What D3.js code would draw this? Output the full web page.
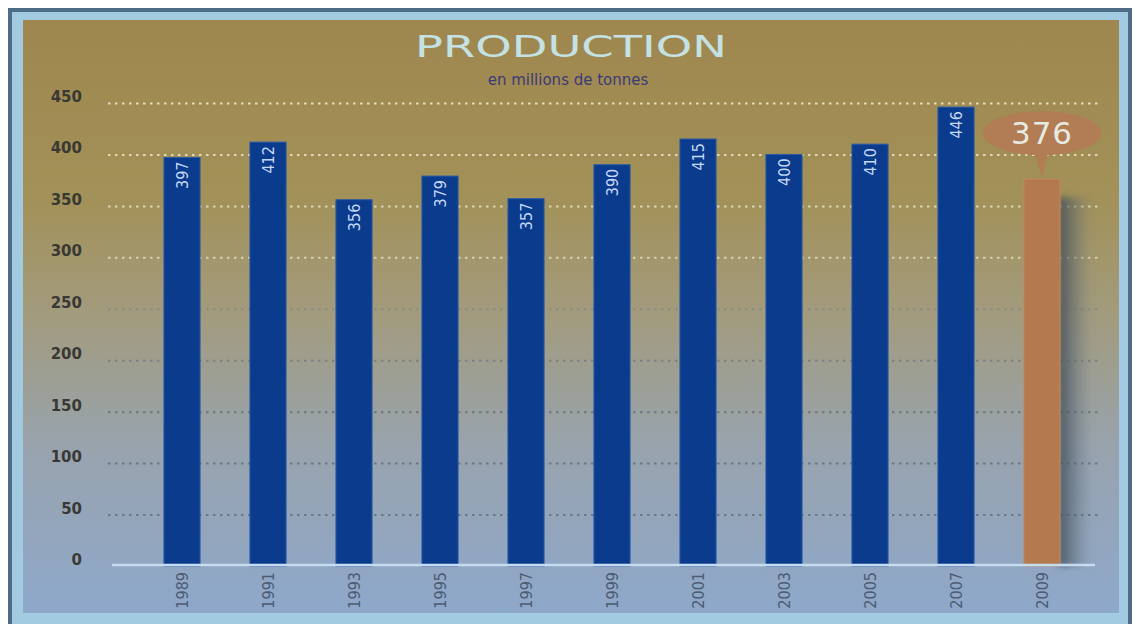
<!DOCTYPE html>
<html>
<head>
<meta charset="utf-8">
<script src="https://cdn.jsdelivr.net/npm/d3@7"></script>
<style>
  html, body { margin: 0; padding: 0; background: #ffffff; }
  svg { display: block; }
</style>
</head>
<body>
<svg id="chart" width="1134" height="624"></svg>
<script>
// Production by year (millions of tonnes); the last year is highlighted
const years = ["1989", "1991", "1993", "1995", "1997", "1999", "2001", "2003", "2005", "2007", "2009"];
const production = [397, 412, 356, 379, 357, 390, 415, 400, 410, 446, 376];
const yTicks = [0, 50, 100, 150, 200, 250, 300, 350, 400, 450];
const titleText = "PRODUCTION";
const subtitleText = "en millions de tonnes";
const highlightYear = "2009";

const svg = d3.select("#chart");
const defs = svg.append("defs");

// panel background: tan at the top fading to steel blue at the bottom
const bg = defs.append("linearGradient").attr("id", "panelGrad")
  .attr("x1", 0).attr("y1", 0).attr("x2", 0).attr("y2", 1);
[[0, "#9f874f"], [0.3, "#a29158"], [0.5, "#a29b7e"], [0.72, "#98a3ad"], [1, "#8ea8cb"]]
  .forEach(([o, c]) => bg.append("stop").attr("offset", o).attr("stop-color", c));

// shadow cast by the highlighted bar
const shadowGrad = defs.append("linearGradient").attr("id", "shadowGrad")
  .attr("x1", 0).attr("y1", 0).attr("x2", 1).attr("y2", 0);
shadowGrad.append("stop").attr("offset", 0).attr("stop-color", "#3c4652").attr("stop-opacity", 0.85);
shadowGrad.append("stop").attr("offset", 1).attr("stop-color", "#6a7888").attr("stop-opacity", 0);
defs.append("filter").attr("id", "soft").attr("x", "-50%").attr("y", "-20%").attr("width", "200%").attr("height", "140%")
  .append("feGaussianBlur").attr("stdDeviation", 3);

// frame
svg.append("rect").attr("x", 8).attr("y", 8).attr("width", 1124).attr("height", 620)
  .attr("fill", "#4e6c86");
svg.append("rect").attr("x", 12).attr("y", 12).attr("width", 1116).attr("height", 616)
  .attr("fill", "#a2cbe2");
svg.append("rect").attr("x", 23).attr("y", 20).attr("width", 1096).attr("height", 593)
  .attr("fill", "url(#panelGrad)");

// scales
const x = d3.scaleBand().domain(years).range([139, 1085]).paddingInner(0.58).paddingOuter(0.29);
const y = d3.scaleLinear().domain([0, 450]).range([566, 103]);

// grid colour: pale cream on the tan part, slate grey on the blue part
const gridColor = d3.scaleLinear().domain([150, 260, 300, 450])
  .range(["#66737f", "#8a8c84", "#ddd6b8", "#ece6cc"]).clamp(true);

// horizontal dotted grid
const grid = svg.append("g").attr("class", "grid")
  .attr("transform", "translate(108,0)")
  .call(d3.axisLeft(y).tickValues(yTicks.filter(d => d > 0)).tickSize(-992).tickFormat(""));
grid.select(".domain").remove();
grid.selectAll(".tick line")
  .attr("stroke", d => gridColor(d))
  .attr("stroke-width", 2)
  .attr("stroke-dasharray", "2.5,4.5")
  .attr("opacity", 0.9);

// y axis labels
const yAxis = svg.append("g").attr("transform", "translate(82,0)")
  .call(d3.axisLeft(y).tickValues(yTicks).tickSize(0).tickPadding(0));
yAxis.select(".domain").remove();
yAxis.selectAll("text")
  .attr("dy", "-0.1em")
  .attr("fill", "#383834")
  .style("font-family", "'DejaVu Sans', sans-serif")
  .style("font-size", "15px")
  .style("font-weight", "bold");

// shadow behind the highlighted bar
const hv = production[years.indexOf(highlightYear)];
svg.append("rect")
  .attr("x", x(highlightYear) + x.bandwidth() - 2)
  .attr("y", y(hv) + 18)
  .attr("width", 34)
  .attr("height", y(0) - y(hv) - 18)
  .attr("fill", "url(#shadowGrad)")
  .attr("filter", "url(#soft)");

// bars
svg.append("g").selectAll("rect")
  .data(years.map((d, i) => ({ year: d, value: production[i] })))
  .join("rect")
  .attr("x", d => x(d.year))
  .attr("y", d => y(d.value))
  .attr("width", x.bandwidth())
  .attr("height", d => y(0) - y(d.value))
  .attr("fill", d => d.year === highlightYear ? "#b27a4e" : "#0a3b8d")
  .attr("stroke", d => d.year === highlightYear ? "#bf8a5c" : "#2a5aa6")
  .attr("stroke-width", 1);

// value labels inside the bars (vertical)
svg.append("g").selectAll("text")
  .data(years.map((d, i) => ({ year: d, value: production[i] })).filter(d => d.year !== highlightYear))
  .join("text")
  .attr("transform", d => `translate(${x(d.year) + x.bandwidth() / 2},${y(d.value) + 4}) rotate(-90)`)
  .attr("text-anchor", "end")
  .attr("dy", "0.35em")
  .attr("fill", "#c4d8f4")
  .style("font-family", "'DejaVu Sans Condensed', 'DejaVu Sans', sans-serif")
  .style("font-stretch", "condensed")
  .style("font-size", "16px")
  .text(d => d.value);

// baseline
svg.append("line").attr("x1", 112).attr("x2", 1095).attr("y1", y(0) - 1).attr("y2", y(0) - 1)
  .attr("stroke", "#c6dcf0").attr("stroke-width", 2.5);

// x axis labels (vertical)
const xAxis = svg.append("g").attr("transform", `translate(0,${y(0) + 6})`)
  .call(d3.axisBottom(x).tickSize(0).tickPadding(0));
xAxis.select(".domain").remove();
xAxis.selectAll("text")
  .attr("transform", "rotate(-90)")
  .attr("text-anchor", "end")
  .attr("x", 0).attr("y", 0).attr("dy", "0.35em")
  .attr("fill", "#4c5c72")
  .style("font-family", "'DejaVu Sans Condensed', 'DejaVu Sans', sans-serif")
  .style("font-stretch", "condensed")
  .style("font-size", "16px");

// callout bubble above the highlighted bar
const cx = x(highlightYear) + x.bandwidth() / 2;
const cy = y(hv) - 46;
const bubble = svg.append("g");
bubble.append("path")
  .attr("d", `M${cx - 9},${cy + 16} L${cx},${y(hv) - 2} L${cx + 7},${cy + 16} Z`)
  .attr("fill", "#b27c55");
bubble.append("ellipse").attr("cx", cx).attr("cy", cy).attr("rx", 59).attr("ry", 22)
  .attr("fill", "#b27c55");
bubble.append("text").attr("x", cx).attr("y", cy).attr("dy", "0.36em")
  .attr("text-anchor", "middle")
  .attr("fill", "#e6ebe2")
  .style("font-family", "'DejaVu Sans', sans-serif")
  .style("font-size", "31px")
  .style("letter-spacing", "1px")
  .text(hv);

// titles
svg.append("text").attr("x", 571).attr("y", 57)
  .attr("text-anchor", "middle")
  .attr("fill", "#c4e2e4")
  .attr("textLength", 312).attr("lengthAdjust", "spacingAndGlyphs")
  .style("font-family", "'DejaVu Sans', sans-serif")
  .style("font-size", "30px")
  .text(titleText);
svg.append("text").attr("x", 568).attr("y", 85)
  .attr("text-anchor", "middle")
  .attr("fill", "#3b3a76")
  .style("font-family", "'DejaVu Sans', sans-serif")
  .style("font-size", "15px")
  .text(subtitleText);
</script>
</body>
</html>
